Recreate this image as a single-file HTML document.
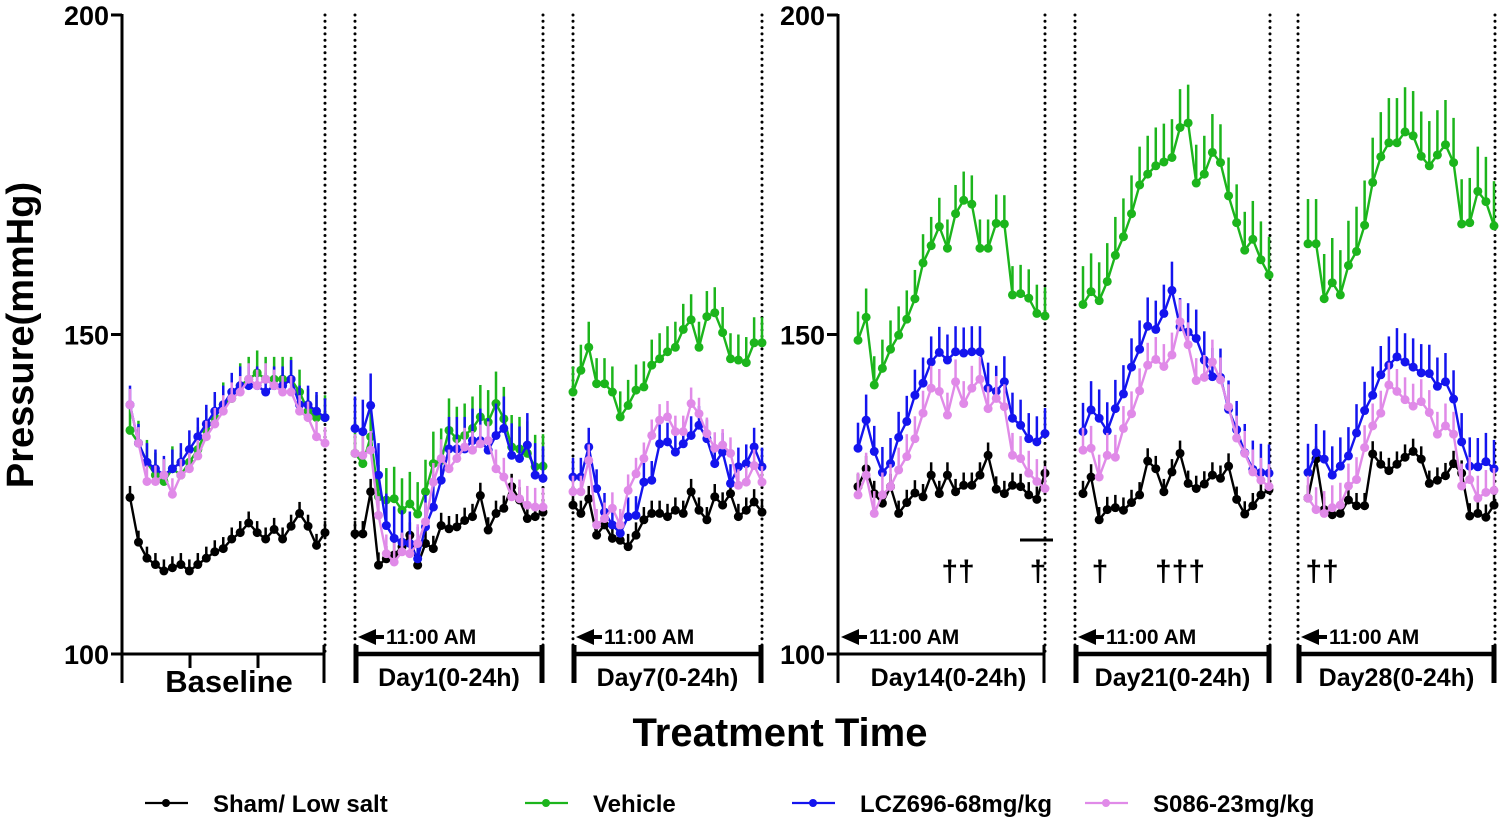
<!DOCTYPE html>
<html><head><meta charset="utf-8"><style>
body{margin:0;background:#fff;}
svg{display:block;font-family:"Liberation Sans",Arial,sans-serif;font-weight:bold;}
</style></head><body>
<svg id="chart" width="1505" height="823" viewBox="0 0 1505 823"></svg>
<script>
const panels = ["Baseline","Day1(0-24h)","Day7(0-24h)","Day14(0-24h)","Day21(0-24h)","Day28(0-24h)"];
const seriesNames = ["Sham/ Low salt","Vehicle","LCZ696-68mg/kg","S086-23mg/kg"];
const yTicks = [100,150,200];
const sham = [
 [124.5,117.5,115,114,113,113.5,114,113,114,115,116,116.5,118,119,120.5,119,118,119.5,118,120,122,120,117,119],
 [118.8,118.8,125.4,113.9,114.9,115.5,116.8,118.6,113.9,117.3,116.5,120.1,119.6,119.9,120.9,121.5,124.8,119.4,122,122.8,126.2,124.1,121.2,121.5,122.2],
 [123.3,122,124.3,118.6,120.2,118.1,117.8,116.8,118.6,121,122,122,121.5,122.5,122,125.4,122.5,121,124.6,123.3,125.1,121.5,122.5,123.8,122.2],
 [126.2,129,125.1,123.6,126.2,122,123.7,125.2,124.6,128,125.1,128,125.4,126.4,126.4,128,131.1,125.8,125.1,126.4,126.2,124.9,124.2,128.3],
 [125.1,127.7,121,122.6,122.9,122.5,123.7,124.9,130.2,129,125.4,128.5,131.4,126.7,125.9,126.6,128,127.5,129.4,124.2,121.9,123.2,124.9,125.7],
 [124.4,130.5,122.6,121.8,122,124.1,123.2,123.2,131.3,129.7,128.7,129.7,130.8,131.7,130.5,126.7,127.2,127.9,129.8,128.3,121.6,122,121.4,123.3]
];
const vehicle = [
 [135,133,130,128,127,129,128,130,132,135,137,139,140,142,143,144,143,143,143,143,141,138,137,137],
 [131.4,129.8,134,124.6,124.1,124.3,122.5,123.5,121.9,125.4,129.8,130.3,135,133.7,134.2,135.3,137.1,136.3,139.2,136.8,132.4,132.1,131.4,129.3,129.4],
 [141,144.4,148,142.3,142.3,141,137.1,138.9,141.3,141.8,145.2,146.2,147.3,148,150.8,152.3,148,152.8,153.4,150.3,146.2,146,145.6,148.7,148.7],
 [149.1,152.7,142.1,144.7,147.7,149.9,152.4,155.6,161.2,163.9,166.9,163.5,168.9,171,170.4,163.5,163.5,167.4,167.3,156.2,156.4,155.7,153.3,152.9],
 [154.7,156.7,155.3,158.3,162.4,165.3,168.9,173.4,175.1,176.4,177,177.7,182.4,183.1,173.7,175.1,178.5,176.9,171.7,167.5,163.2,164.9,161.7,159.3],
 [164.2,164.2,155.6,158.1,156.2,160.8,163,167.1,173.8,177.8,180,180,181.7,181.1,177.9,176.4,178.1,179.7,176.9,167.3,167.5,172.4,170.8,167]
];
const lcz = [
 [139,133,130,129,128,129,130,132,134,136,138,139,141,142,142,142,141,142,142,143,139,139,138,137],
 [135.3,134.8,138.9,128,120.1,118.1,117.5,117.3,114.9,119.9,123,127.2,132.1,132.1,132.1,133.4,133.4,131.9,134.2,135.3,131.1,130.6,132.7,128,127.5],
 [127.7,127.7,132.4,125.9,122.2,120.2,118.9,121.5,121.7,126.9,127.2,132.9,133.2,131.6,132.9,134.2,135.8,133.7,129.8,131.6,126.7,129.3,129.8,132.4,129.3],
 [132.2,136.6,131.7,128.4,129.8,133.9,136.4,140.5,142.4,145.7,147.2,146,147.3,147.1,147.3,147.3,141.6,141.1,142.6,136.9,135.8,133.7,133.2,134.5],
 [134.8,138.2,136.9,134.9,138.4,140.7,144.9,147.7,151.3,150.8,153.3,156.9,151.2,150.4,149.4,146,143.4,143.3,138.3,135.1,131.5,128.9,128.4,128.3],
 [128.4,131.5,130.5,128,129.4,131,134.6,138.1,140.5,143.7,145.2,146.5,145.7,144.9,144,143.9,141.9,142.6,139.9,133.2,129.4,129.3,130.1,129]
];
const s086 = [
 [139,133,127,127,128,125,128,129,131,134,136,138,140,141,143,142,143,142,141,141,138,137,134,133],
 [131.4,131.1,131.9,121.7,115.7,114.4,116,115.7,117.3,120.7,126.9,130.6,129,130.6,132.4,131.9,132.9,133.4,129,127.7,124.6,124.3,123.3,123,123],
 [125.4,125.4,130.3,120.2,121.2,122.8,120.2,125.6,128.2,130.6,134.2,136.6,137.1,134.8,134.8,139.2,137.6,134.5,132.2,132.7,131.4,126.4,126.9,129.5,126.9],
 [124.9,128,122,124.9,126.2,128.8,130.9,133.7,137.7,141.6,141.1,137.4,142.6,139.2,141.6,143,138.4,140,138.7,131.1,130.6,128.3,127,125.9],
 [131.9,132.2,127.7,131.1,130.8,135.3,137.6,141.2,145.2,146.1,145,146.8,152,148.4,142.8,143.3,145.7,142.9,138.7,133.8,131.4,128.5,127.2,126.2],
 [124.4,122.6,122,122.9,123.3,126.3,127.3,132.3,135.7,137.7,142.1,141.1,139.8,138.8,139.5,137.8,134.4,135.7,134.4,126.3,127.3,124.4,125.3,125.6]
];
const errSham = [1.8,2,2,2,2,2];
const errVehicle = [3.5,5,4,4.5,6,7];
const errLcz = [3,5,3,4,4.5,4.5];
const errS086 = [2.5,3,2.5,3.5,3.5,3.5];

const svg = document.getElementById('chart');
const NS = 'http://www.w3.org/2000/svg';
function mk(tag, attrs, parent){ const e=document.createElementNS(NS,tag); for(const k in attrs) e.setAttribute(k,attrs[k]); (parent||svg).appendChild(e); return e; }
function yScale(v){ return 654 - (v-100)*6.39; }
const pStart=[130,355,573,858,1083,1308], pEnd=[325,543,762,1045,1269,1494], pN=[24,25,25,24,24,24];
function xScale(p,i){ return pStart[p] + i*(pEnd[p]-pStart[p])/(pN[p]-1); }

[325,355,543,573,762,1045,1075,1270,1298,1495].forEach(x=>{
  const l=mk('line',{x1:x,y1:15,x2:x,y2:652,stroke:'#000','stroke-width':3,'stroke-dasharray':'0 6.3','stroke-linecap':'round'});
  
  
});

[122,838].forEach((ax,ai)=>{
  const g=mk('g',{});
  
  
  mk('line',{x1:ax,y1:14,x2:ax,y2:683,stroke:'#000','stroke-width':3},g);
  yTicks.forEach(t=>{
    mk('line',{x1:ax-11,y1:yScale(t),x2:ax,y2:yScale(t),stroke:'#000','stroke-width':3},g);
    const tx=mk('text',{x:ax-13,y:yScale(t)+10,'text-anchor':'end','font-size':27},g);
    tx.textContent=t;
    
    
  });
});

const brackets=[[122,325,3,false],[355,543,4.5,true],[573,762,4.5,true],[838,1045,3,false],[1075,1270,4.5,true],[1298,1495,4.5,true]];
brackets.forEach((b,i)=>{
  const g=mk('g',{});
  
  
  mk('line',{x1:b[0],y1:654,x2:b[1],y2:654,stroke:'#000','stroke-width':b[2]},g);
  if(b[3]) mk('line',{x1:b[0]+1,y1:645,x2:b[0]+1,y2:683,stroke:'#000','stroke-width':5},g);
  mk('line',{x1:b[1]-1,y1:645,x2:b[1]-1,y2:683,stroke:'#000','stroke-width':b[3]?5:3},g);
  const lbl=mk('text',{x:i===0?229:(b[0]+b[1])/2+(i===3?7:0),y:i===0?692:686,'text-anchor':'middle','font-size':i===0?31:25},g);
  lbl.textContent=panels[i];
  
  
  if(i>0){
    mk('polygon',{points:`${b[0]+3},637 ${b[0]+21},629 ${b[0]+21},645`,fill:'#000'},g);
    mk('rect',{x:b[0]+20,y:635,width:9,height:4,fill:'#000'},g);
    const t=mk('text',{x:b[0]+31,y:644,'font-size':21},g);
    t.textContent='11:00 AM';
    
    
  }
});
[190,258].forEach(x=>mk('line',{x1:x,y1:654,x2:x,y2:668,stroke:'#000','stroke-width':3}));

const series=[[sham,errSham,'#000000'],[vehicle,errVehicle,'#1cb51c'],[lcz,errLcz,'#1414ee'],[s086,errS086,'#e08ae8']];
const sNames=['sham-series','vehicle-series','lcz696-series','s086-series'];
series.forEach((s,si)=>{
  const g=mk('g',{});
  
  
  s[0].forEach((arr,p)=>{
    let pts=[];
    arr.forEach((v,i)=>{
      const x=xScale(p,i), y=yScale(v);
      pts.push(x+','+y);
      const eb=mk('line',{x1:x,y1:y,x2:x,y2:yScale(v+s[1][p]),stroke:s[2],'stroke-width':2.5},g);
      
      
    });
    mk('polyline',{points:pts.join(' '),fill:'none',stroke:s[2],'stroke-width':2.4},g);
    arr.forEach((v,i)=>{
      const c=mk('circle',{cx:xScale(p,i),cy:yScale(v),r:4.5,fill:s[2]},g);
      
      
    });
  });
});

const daggers=[[958,'††'],[1038,'†'],[1100,'†'],[1180,'†††'],[1322,'††']];
daggers.forEach(d=>{
  const t=mk('text',{x:d[0],y:581,'text-anchor':'middle','font-size':30});
  t.textContent=d[1];
  
  
});
mk('line',{x1:1020,y1:540,x2:1053,y2:540,stroke:'#000','stroke-width':3});

const yt=mk('text',{x:0,y:0,transform:'translate(33,335) rotate(-90)','text-anchor':'middle','font-size':38});
yt.textContent='Pressure(mmHg)';


const xt=mk('text',{x:780,y:746,'text-anchor':'middle','font-size':40});
xt.textContent='Treatment Time';



const legX=[145,525,792,1085];
seriesNames.forEach((n,i)=>{
  const g=mk('g',{});
  
  
  mk('line',{x1:legX[i],y1:803,x2:legX[i]+43,y2:803,stroke:series[i][2],'stroke-width':2.2},g);
  mk('circle',{cx:legX[i]+21,cy:803,r:4,fill:series[i][2]},g);
  const t=mk('text',{x:legX[i]+68,y:812,'font-size':24},g);
  t.textContent=n;
});
</script>
</body></html>
